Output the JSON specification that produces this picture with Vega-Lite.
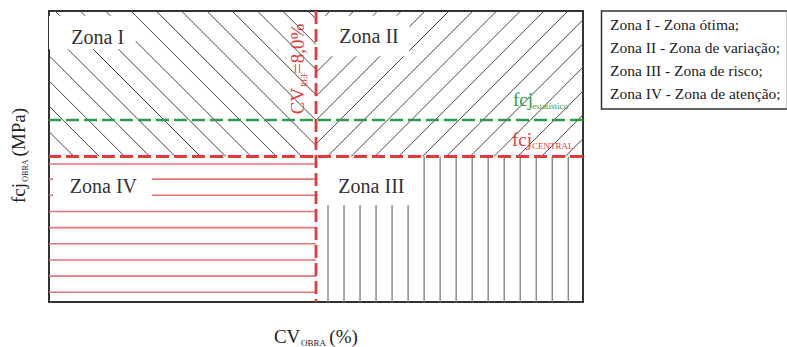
{
  "$schema": "https://vega.github.io/schema/vega-lite/v6.json",
  "width": 534,
  "height": 291,
  "autosize": {"type": "none"},
  "padding": {"left": 49, "top": 11, "right": 204, "bottom": 45},
  "background": "white",
  "config": {
    "view": {"stroke": "#333333", "strokeWidth": 2},
    "font": "Liberation Serif",
    "legend": {"strokeWidth": 1.5}
  },
  "datasets": {
    "hachura_diagonal": [
      {"cv_ini": 0.18, "fcj_ini": 9, "cv_fim": 4.54, "fcj_fim": 4.5},
      {"cv_ini": 0.938, "fcj_ini": 9, "cv_fim": 5.298, "fcj_fim": 4.5},
      {"cv_ini": 1.696, "fcj_ini": 9, "cv_fim": 6.056, "fcj_fim": 4.5},
      {"cv_ini": 2.454, "fcj_ini": 9, "cv_fim": 6.814, "fcj_fim": 4.5},
      {"cv_ini": 3.212, "fcj_ini": 9, "cv_fim": 7.572, "fcj_fim": 4.5},
      {"cv_ini": 3.97, "fcj_ini": 9, "cv_fim": 8, "fcj_fim": 4.84},
      {"cv_ini": 4.728, "fcj_ini": 9, "cv_fim": 8, "fcj_fim": 5.62},
      {"cv_ini": 5.486, "fcj_ini": 9, "cv_fim": 8, "fcj_fim": 6.41},
      {"cv_ini": 6.244, "fcj_ini": 9, "cv_fim": 8, "fcj_fim": 7.19},
      {"cv_ini": 7.002, "fcj_ini": 9, "cv_fim": 8, "fcj_fim": 7.97},
      {"cv_ini": 7.76, "fcj_ini": 9, "cv_fim": 8, "fcj_fim": 8.75},
      {"cv_ini": 0, "fcj_ini": 8.4, "cv_fim": 3.78, "fcj_fim": 4.5},
      {"cv_ini": 0, "fcj_ini": 7.62, "cv_fim": 3.02, "fcj_fim": 4.5},
      {"cv_ini": 0, "fcj_ini": 6.84, "cv_fim": 2.27, "fcj_fim": 4.5},
      {"cv_ini": 0, "fcj_ini": 6.06, "cv_fim": 1.51, "fcj_fim": 4.5},
      {"cv_ini": 0, "fcj_ini": 5.27, "cv_fim": 0.75, "fcj_fim": 4.5},
      {"cv_ini": 8.42, "fcj_ini": 9, "cv_fim": 8, "fcj_fim": 8.57},
      {"cv_ini": 9.133, "fcj_ini": 9, "cv_fim": 8, "fcj_fim": 7.83},
      {"cv_ini": 9.846, "fcj_ini": 9, "cv_fim": 8, "fcj_fim": 7.1},
      {"cv_ini": 10.559, "fcj_ini": 9, "cv_fim": 8, "fcj_fim": 6.36},
      {"cv_ini": 11.272, "fcj_ini": 9, "cv_fim": 8, "fcj_fim": 5.62},
      {"cv_ini": 11.985, "fcj_ini": 9, "cv_fim": 8, "fcj_fim": 4.89},
      {"cv_ini": 12.698, "fcj_ini": 9, "cv_fim": 8.338, "fcj_fim": 4.5},
      {"cv_ini": 13.411, "fcj_ini": 9, "cv_fim": 9.051, "fcj_fim": 4.5},
      {"cv_ini": 14.124, "fcj_ini": 9, "cv_fim": 9.764, "fcj_fim": 4.5},
      {"cv_ini": 14.837, "fcj_ini": 9, "cv_fim": 10.477, "fcj_fim": 4.5},
      {"cv_ini": 15.55, "fcj_ini": 9, "cv_fim": 11.19, "fcj_fim": 4.5},
      {"cv_ini": 16, "fcj_ini": 8.73, "cv_fim": 11.903, "fcj_fim": 4.5},
      {"cv_ini": 16, "fcj_ini": 7.99, "cv_fim": 12.616, "fcj_fim": 4.5},
      {"cv_ini": 16, "fcj_ini": 7.26, "cv_fim": 13.329, "fcj_fim": 4.5},
      {"cv_ini": 16, "fcj_ini": 6.52, "cv_fim": 14.042, "fcj_fim": 4.5},
      {"cv_ini": 16, "fcj_ini": 5.79, "cv_fim": 14.755, "fcj_fim": 4.5},
      {"cv_ini": 16, "fcj_ini": 5.05, "cv_fim": 15.468, "fcj_fim": 4.5}
    ],
    "zona3_linhas": [
      {"cv": 8.36}, {"cv": 8.84}, {"cv": 9.32}, {"cv": 9.8}, {"cv": 10.28}, {"cv": 10.76},
      {"cv": 11.24}, {"cv": 11.72}, {"cv": 12.2}, {"cv": 12.68}, {"cv": 13.16}, {"cv": 13.64},
      {"cv": 14.12}, {"cv": 14.6}, {"cv": 15.08}, {"cv": 15.56}
    ],
    "zona4_linhas": [
      {"fcj": 0.3}, {"fcj": 0.8}, {"fcj": 1.3}, {"fcj": 1.8}, {"fcj": 2.3},
      {"fcj": 2.8}, {"fcj": 3.3}, {"fcj": 3.8}, {"fcj": 4.27}
    ],
    "zonas": [
      {"zona": "Zona I", "legenda": "Zona I - Zona ótima;", "cv_ini": 0, "cv_fim": 2.6, "fcj_ini": 7.82, "fcj_fim": 8.85, "cv_rotulo": 1.46, "fcj_rotulo": 7.97},
      {"zona": "Zona II", "legenda": "Zona II - Zona de variação;", "cv_ini": 8, "cv_fim": 10.8, "fcj_ini": 7.6, "fcj_fim": 8.85, "cv_rotulo": 9.59, "fcj_rotulo": 8.0},
      {"zona": "Zona III", "legenda": "Zona III - Zona de risco;", "cv_ini": 8, "cv_fim": 11.1, "fcj_ini": 3.0, "fcj_fim": 4.5, "cv_rotulo": 9.66, "fcj_rotulo": 3.36},
      {"zona": "Zona IV", "legenda": "Zona IV - Zona de atenção;", "cv_ini": 0.12, "cv_fim": 3.09, "fcj_ini": 3.0, "fcj_fim": 4.08, "cv_rotulo": 1.63, "fcj_rotulo": 3.36}
    ],
    "texto_horizontal": [
      {"texto": "CV", "cv": 6.74, "fcj": -1.27, "grupo": "eixo"},
      {"texto": "(%)", "cv": 8.4, "fcj": -1.27, "grupo": "eixo"},
      {"texto": "fcj", "cv": 13.9, "fcj": 6.06, "grupo": "estatistico"},
      {"texto": "fcj", "cv": 13.87, "fcj": 4.83, "grupo": "central"}
    ],
    "subscrito_horizontal": [
      {"texto": "OBRA", "cv": 7.55, "fcj": -1.36, "grupo": "eixo"},
      {"texto": "estatístico", "cv": 14.47, "fcj": 5.97, "grupo": "estatistico"},
      {"texto": "CENTRAL", "cv": 14.47, "fcj": 4.73, "grupo": "central"}
    ],
    "texto_vertical": [
      {"texto": "fcj", "cv": -0.72, "fcj": 3.06, "grupo": "eixo"},
      {"texto": "(MPa)", "cv": -0.72, "fcj": 4.5, "grupo": "eixo"},
      {"texto": "CV", "cv": 7.64, "fcj": 5.81, "grupo": "cv_ref"},
      {"texto": "=8,0%", "cv": 7.64, "fcj": 7.05, "grupo": "cv_ref"}
    ],
    "subscrito_vertical": [
      {"texto": "OBRA", "cv": -0.62, "fcj": 3.72, "grupo": "eixo"},
      {"texto": "REF", "cv": 7.74, "fcj": 6.65, "grupo": "cv_ref"}
    ]
  },
  "layer": [
    {
      "data": {"name": "hachura_diagonal"},
      "mark": {"type": "rule", "color": "#454545", "strokeWidth": 1},
      "encoding": {
        "x": {"field": "cv_ini", "type": "quantitative",
          "scale": {"domain": [0, 16], "nice": false, "zero": false},
          "axis": {"values": [0, 2, 4, 6, 8, 10, 12, 14, 16], "labels": false, "title": null, "grid": false,
            "domainColor": "#333333", "domainWidth": 2, "tickColor": "#333333", "tickWidth": 1.5, "tickSize": 4}},
        "y": {"field": "fcj_ini", "type": "quantitative",
          "scale": {"domain": [0, 9], "nice": false, "zero": false},
          "axis": {"values": [0, 1, 2, 3, 4, 5, 6, 7, 8, 9], "labels": false, "title": null, "grid": false,
            "domainColor": "#333333", "domainWidth": 2, "tickColor": "#333333", "tickWidth": 1.5, "tickSize": 6}},
        "x2": {"field": "cv_fim"},
        "y2": {"field": "fcj_fim"}
      }
    },
    {
      "data": {"name": "zona3_linhas"},
      "mark": {"type": "rule", "color": "#8c8c8c", "strokeWidth": 1.5},
      "encoding": {
        "x": {"field": "cv", "type": "quantitative", "axis": null},
        "y": {"datum": 0, "type": "quantitative", "axis": null},
        "y2": {"datum": 4.5}
      }
    },
    {
      "data": {"name": "zona4_linhas"},
      "mark": {"type": "rule", "color": "#e67474", "strokeWidth": 1.6},
      "encoding": {
        "y": {"field": "fcj", "type": "quantitative", "axis": null},
        "x": {"datum": 0, "type": "quantitative", "axis": null},
        "x2": {"datum": 8}
      }
    },
    {
      "data": {"name": "zonas"},
      "mark": {"type": "rect", "strokeWidth": 0},
      "encoding": {
        "x": {"field": "cv_ini", "type": "quantitative", "axis": null},
        "x2": {"field": "cv_fim"},
        "y": {"field": "fcj_ini", "type": "quantitative", "axis": null},
        "y2": {"field": "fcj_fim"},
        "fill": {"field": "legenda", "type": "nominal",
          "scale": {"domain": ["Zona I - Zona ótima;", "Zona II - Zona de variação;", "Zona III - Zona de risco;", "Zona IV - Zona de atenção;"],
            "range": ["#ffffff", "#ffffff", "#ffffff", "#ffffff"]},
          "legend": {"orient": "none", "legendX": 552.5, "legendY": 0, "title": null,
            "symbolSize": 1, "symbolStrokeWidth": 0, "symbolOpacity": 0,
            "labelFont": "Liberation Serif", "labelFontSize": 15.5, "labelColor": "#222222", "labelLimit": 400, "labelOffset": -13,
            "strokeColor": "#333333", "fillColor": "#ffffff", "padding": 6, "rowPadding": 6.2}}
      }
    },
    {
      "data": {"values": [{"fcj_estatistico": 5.63}]},
      "mark": {"type": "rule", "color": "#2e9a4a", "strokeWidth": 2.6, "strokeDash": [13, 5]},
      "encoding": {"y": {"field": "fcj_estatistico", "type": "quantitative", "axis": null}}
    },
    {
      "data": {"values": [{"fcj_central": 4.5}]},
      "mark": {"type": "rule", "color": "#e33b3b", "strokeWidth": 2.8, "strokeDash": [13, 5]},
      "encoding": {"y": {"field": "fcj_central", "type": "quantitative", "axis": null}}
    },
    {
      "data": {"values": [{"cv_ref": 8}]},
      "mark": {"type": "rule", "color": "#e33b3b", "strokeWidth": 2.8, "strokeDash": [13, 5]},
      "encoding": {"x": {"field": "cv_ref", "type": "quantitative", "axis": null}}
    },
    {
      "data": {"name": "zonas"},
      "mark": {"type": "text", "font": "Liberation Serif", "fontSize": 20, "color": "#333333", "align": "center", "baseline": "alphabetic"},
      "encoding": {
        "x": {"field": "cv_rotulo", "type": "quantitative", "axis": null},
        "y": {"field": "fcj_rotulo", "type": "quantitative", "axis": null},
        "text": {"field": "zona"}
      }
    },
    {
      "data": {"name": "texto_horizontal"},
      "mark": {"type": "text", "font": "Liberation Serif", "fontSize": 19, "align": "left", "baseline": "alphabetic"},
      "encoding": {
        "x": {"field": "cv", "type": "quantitative", "axis": null},
        "y": {"field": "fcj", "type": "quantitative", "axis": null},
        "text": {"field": "texto"},
        "color": {"field": "grupo", "type": "nominal", "legend": null,
          "scale": {"domain": ["eixo", "cv_ref", "estatistico", "central"], "range": ["#222222", "#e33b3b", "#2e9a4a", "#e33b3b"]}}
      }
    },
    {
      "data": {"name": "subscrito_horizontal"},
      "mark": {"type": "text", "font": "Liberation Serif", "fontSize": 9, "align": "left", "baseline": "alphabetic"},
      "encoding": {
        "x": {"field": "cv", "type": "quantitative", "axis": null},
        "y": {"field": "fcj", "type": "quantitative", "axis": null},
        "text": {"field": "texto"},
        "color": {"field": "grupo", "type": "nominal", "legend": null}
      }
    },
    {
      "data": {"name": "texto_vertical"},
      "mark": {"type": "text", "font": "Liberation Serif", "fontSize": 19, "align": "left", "baseline": "alphabetic", "angle": 270},
      "encoding": {
        "x": {"field": "cv", "type": "quantitative", "axis": null},
        "y": {"field": "fcj", "type": "quantitative", "axis": null},
        "text": {"field": "texto"},
        "color": {"field": "grupo", "type": "nominal", "legend": null}
      }
    },
    {
      "data": {"name": "subscrito_vertical"},
      "mark": {"type": "text", "font": "Liberation Serif", "fontSize": 8, "align": "left", "baseline": "alphabetic", "angle": 270},
      "encoding": {
        "x": {"field": "cv", "type": "quantitative", "axis": null},
        "y": {"field": "fcj", "type": "quantitative", "axis": null},
        "text": {"field": "texto"},
        "color": {"field": "grupo", "type": "nominal", "legend": null}
      }
    }
  ]
}
